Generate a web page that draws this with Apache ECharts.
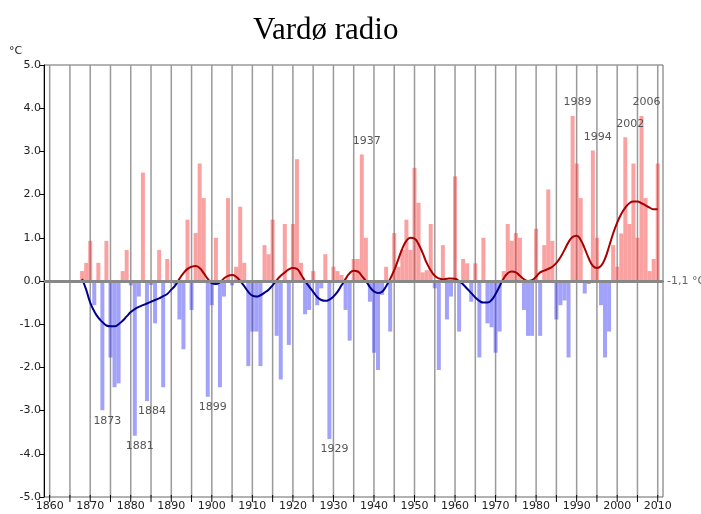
<!DOCTYPE html>
<html>
<head>
<meta charset="utf-8">
<script src="https://cdn.jsdelivr.net/npm/echarts@6/dist/echarts.min.js"></script>
<style>
  html, body { margin: 0; background: #fff; }
  #chart { width: 701px; height: 514px; }
</style>
</head>
<body>
<div id="chart"></div>
<script>
// yearly anomaly (°C) relative to normal -1,1 °C, first year 1868
const firstYear = 1868;
const anomalies = [
  0.23, 0.42,
  0.93, -0.56, 0.42, -2.99, 0.93, -1.77, -2.46, -2.37, 0.23, 0.72,
  -0.1, -3.58, -0.36, 2.51, -2.78, -0.09, -0.98, 0.72, -2.46, 0.51,
  -0.05, -0.09, -0.89, -1.58, 1.42, -0.67, 1.11, 2.72, 1.92, -2.68,
  -0.56, 1.0, -2.46, -0.36, 1.92, -0.1, 0.33, 1.72, 0.42, -1.97,
  -1.17, -1.17, -1.97, 0.83, 0.62, 1.42, -1.27, -2.28, 1.32, -1.48,
  1.32, 2.82, 0.42, -0.77, -0.67, 0.23, -0.56, -0.17, 0.62, -3.66,
  0.33, 0.23, 0.14, -0.67, -1.38, 0.51, 0.51, 2.93, 1.0, -0.48,
  -1.66, -2.06, -0.32, 0.33, -1.17, 1.11, 0.33, 0.72, 1.42, 0.72,
  2.62, 1.81, 0.2, 0.25, 1.32, -0.17, -2.06, 0.83, -0.89, -0.36,
  2.42, -1.17, 0.51, 0.41, -0.48, 0.41, -1.77, 1.0, -0.98, -1.07,
  -1.66, -1.17, 0.23, 1.32, 0.93, 1.11, 1.0, -0.67, -1.27, -1.27,
  1.21, -1.27, 0.83, 2.12, 0.93, -0.89, -0.56, -0.45, -1.77, 3.82,
  2.72, 1.92, -0.29, -0.07, 3.02, 1.0, -0.56, -1.77, -1.17, 0.83,
  0.33, 1.1, 3.33, 1.32, 2.72, 1.0, 3.82, 1.92, 0.23, 0.51,
  2.72
];
// smoothed curve, same years
const smoothCurve = [
  0.05, -0.2,
  -0.5, -0.7, -0.85, -0.95, -1.03, -1.05, -1.05, -1.0, -0.92, -0.82,
  -0.72, -0.65, -0.6, -0.56, -0.52, -0.48, -0.44, -0.4, -0.35, -0.3,
  -0.2, -0.1, 0.05, 0.18, 0.28, 0.33, 0.35, 0.3, 0.18, 0.05,
  -0.05, -0.07, -0.03, 0.06, 0.12, 0.14, 0.1, 0.0, -0.12, -0.25,
  -0.34, -0.36, -0.33, -0.27, -0.2, -0.1, 0.02, 0.12, 0.2, 0.27,
  0.3, 0.28, 0.15, 0.0, -0.13, -0.25, -0.37, -0.44, -0.46, -0.43,
  -0.36, -0.25, -0.1, 0.05, 0.18, 0.24, 0.22, 0.12, 0.0, -0.14,
  -0.24, -0.28, -0.25, -0.12, 0.05, 0.25, 0.5, 0.75, 0.93, 1.0,
  0.98, 0.85, 0.65, 0.42, 0.25, 0.12, 0.06, 0.04, 0.05, 0.06,
  0.05, 0.0, -0.08, -0.18, -0.28, -0.38, -0.46, -0.5, -0.5, -0.44,
  -0.3, -0.12, 0.06, 0.18, 0.22, 0.2, 0.12, 0.04, 0.0, 0.02,
  0.1, 0.2, 0.24, 0.28, 0.33, 0.42, 0.55, 0.72, 0.9, 1.02,
  1.05, 0.95, 0.75, 0.52, 0.35, 0.3, 0.35, 0.52, 0.8, 1.1,
  1.35, 1.55, 1.7, 1.8, 1.84, 1.84, 1.8, 1.75, 1.7, 1.66,
  1.66
];
const yearTicks = [1860, 1865, 1870, 1875, 1880, 1885, 1890, 1895, 1900, 1905,
  1910, 1915, 1920, 1925, 1930, 1935, 1940, 1945, 1950, 1955, 1960, 1965, 1970,
  1975, 1980, 1985, 1990, 1995, 2000, 2005, 2010];
const yearLabels = [1860, 1870, 1880, 1890, 1900, 1910, 1920, 1930, 1940, 1950,
  1960, 1970, 1980, 1990, 2000, 2010];
const markedYears = [1873, 1881, 1884, 1899, 1929, 1937, 1989, 1994, 2002, 2006];

const chart = echarts.init(document.getElementById('chart'));

const barData = anomalies.map((v, i) => {
  const year = firstYear + i;
  const item = {
    value: [year, v],
    itemStyle: { color: v >= 0 ? 'rgba(245,60,60,0.48)' : 'rgba(60,60,245,0.48)' },
  };
  if (markedYears.indexOf(year) >= 0) {
    item.label = {
      show: true,
      position: v >= 0 ? 'top' : 'bottom',
      formatter: String(year),
      offset: [5, v >= 0 ? -3 : 0],
      color: '#555',
      fontSize: 11,
      fontFamily: 'DejaVu Sans',
    };
  }
  return item;
});
const curveData = smoothCurve.map((v, i) => [firstYear + i, v]);

// one vertical grid line plus the x tick for each tick year
function renderGridLine(params, api) {
  const x = api.coord([api.value(0), 0])[0];
  const top = api.coord([api.value(0), 5])[1];
  const bottom = api.coord([api.value(0), -5])[1];
  return {
    type: 'group',
    children: [
      { type: 'line', shape: { x1: x, y1: top, x2: x, y2: bottom },
        style: { stroke: '#9a9a9a', lineWidth: 1.5 } },
      { type: 'line', shape: { x1: x, y1: bottom - 2, x2: x, y2: bottom + 5 },
        style: { stroke: '#000', lineWidth: 1 } },
    ],
  };
}

chart.setOption({
  backgroundColor: '#fff',
  animation: false,
  title: {
    text: 'Vardø radio',
    left: 248,
    top: 10,
    textStyle: { fontFamily: 'Liberation Serif', fontSize: 31, fontWeight: 'normal', color: '#000' },
  },
  grid: {
    left: 44, right: 38, top: 65, bottom: 17,
    show: true, borderColor: '#666', borderWidth: 1,
  },
  visualMap: {
    show: false,
    type: 'piecewise',
    seriesIndex: 2,
    dimension: 1,
    pieces: [
      { gte: -10, lt: 0, color: '#00008c' },
      { gte: 0, lte: 10, color: '#a80000' },
    ],
  },
  xAxis: {
    type: 'value',
    min: 1858.6,
    max: 2011.3,
    axisLine: { show: true, lineStyle: { color: '#000', width: 1 } },
    axisTick: { show: false },
    axisLabel: { show: false },
    splitLine: { show: false },
  },
  yAxis: {
    type: 'value',
    min: -5, max: 5, interval: 1,
    axisLine: { show: true, lineStyle: { color: '#000', width: 1 } },
    axisTick: { show: true, length: 5, lineStyle: { color: '#000' } },
    axisLabel: { color: '#222', fontSize: 11, fontFamily: 'DejaVu Sans', margin: 3, formatter: v => v.toFixed(1) },
    splitLine: { show: false },
  },
  series: [
    {
      type: 'custom',
      silent: true,
      clip: false,
      z: 1,
      renderItem: renderGridLine,
      encode: { x: 0 },
      data: yearTicks.map(y => [y]),
    },
    {
      type: 'bar',
      data: barData,
      barWidth: 4,
      z: 2,
      markLine: {
        silent: true,
        symbol: 'none',
        animation: false,
        lineStyle: { color: '#888', width: 3, type: 'solid' },
        label: {
          show: true, position: 'end', formatter: '-1,1 °C', color: '#666',
          fontSize: 11, fontFamily: 'DejaVu Sans', distance: 4,
        },
        data: [{ yAxis: 0 }],
      },
    },
    {
      type: 'line',
      data: curveData,
      smooth: true,
      showSymbol: false,
      lineStyle: { width: 2 },
      z: 3,
    },
  ],
});

// year labels and unit placed through the chart's own scale
const graphics = [{
  type: 'text', left: 9, top: 46,
  style: { text: '°C', fontSize: 11, fontFamily: 'DejaVu Sans', fill: '#222' },
}];
yearLabels.forEach(y => {
  const p = chart.convertToPixel({ gridIndex: 0 }, [y, -5]);
  graphics.push({
    type: 'text', silent: true, x: p[0], y: p[1] + 4,
    style: {
      text: String(y), fontSize: 11, fontFamily: 'DejaVu Sans', fill: '#222',
      align: 'center', verticalAlign: 'top',
    },
  });
});
chart.setOption({ graphic: graphics });
</script>
</body>
</html>
